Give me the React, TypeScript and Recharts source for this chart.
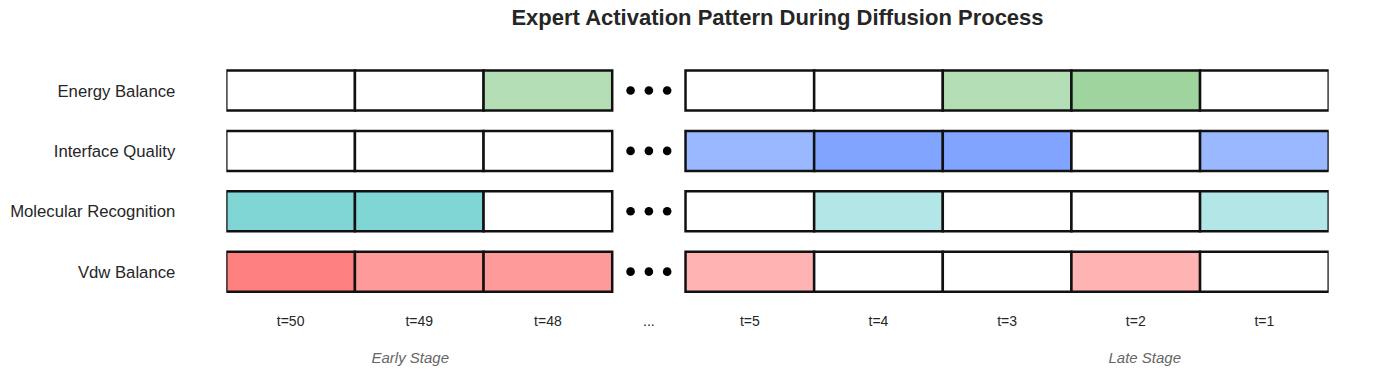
import React from 'react';
import { BarChart, Bar, XAxis, YAxis, Cell } from 'recharts';

const experts = ['Energy Balance', 'Interface Quality', 'Molecular Recognition', 'Vdw Balance'];
const timeLabels = ['t=50', 't=49', 't=48', '...', 't=5', 't=4', 't=3', 't=2', 't=1'];
// width of each slot on the time axis, the 4th slot is the "..." gap
const slotWidths = [1, 1, 1, 0.57, 1, 1, 1, 1, 1];
const gapSlot = 3;

// activation level per time slot (0 = inactive), gap slot is null
const energyBalance = [0, 0, 1, null, 0, 0, 1, 2, 0];
const interfaceQuality = [0, 0, 0, null, 1, 2, 2, 0, 1];
const molecularRecognition = [3, 3, 0, null, 0, 1, 0, 0, 1];
const vdwBalance = [3, 2, 2, null, 1, 0, 0, 1, 0];
const activations = [energyBalance, interfaceQuality, molecularRecognition, vdwBalance];

const energyColors = ['#ffffff', '#b3deb5', '#9fd49e', '#8ccb8b'];
const interfaceColors = ['#ffffff', '#99b8ff', '#80a4ff', '#6690ff'];
const molecularColors = ['#ffffff', '#b3e7e7', '#99dede', '#80d6d4'];
const vdwColors = ['#ffffff', '#ffb3b3', '#ff9a9a', '#ff8080'];
const palettes = [energyColors, interfaceColors, molecularColors, vdwColors];

const stageLabels = ['Early Stage', 'Late Stage'];
const stagePositions = [1.43, 7.14];

const total = slotWidths.reduce((a, b) => a + b, 0);
const slotCenters = slotWidths.map((w, i) => slotWidths.slice(0, i).reduce((a, b) => a + b, 0) + w / 2);

const rows = experts.map((name) => {
	const row: Record<string, any> = { name };
	slotWidths.forEach((w, j) => {
		row[`s${j}`] = w;
	});
	return row;
});

const Dots = (props: any) => {
	const { x, y, width, height } = props;
	const cx = x + width / 2;
	const cy = y + height / 2;
	return (
		<g>
			{[-18.3, 0, 18.3].map((d) => (
				<circle key={d} cx={cx + d} cy={cy} r={4.3} fill='#000' />
			))}
		</g>
	);
};

export default function App() {
	return (
		<div
			style={{
				position: 'absolute',
				left: 0,
				top: 0,
				width: 1384,
				height: 375,
				background: '#ffffff',
				fontFamily: "'Liberation Sans', Arial, sans-serif",
			}}
		>
			<div
				style={{
					position: 'absolute',
					left: 226.3,
					width: 1102.4,
					top: 6.5,
					fontSize: 22,
					lineHeight: '22px',
					fontWeight: 'bold',
					textAlign: 'center',
					color: '#262626',
				}}
			>
				Expert Activation Pattern During Diffusion Process
			</div>
			<BarChart
				width={1384}
				height={375}
				data={rows}
				layout='vertical'
				margin={{ top: 60.5, right: 55.3, left: 50, bottom: 0 }}
			>
				<XAxis
					type='number'
					domain={[0, total]}
					allowDataOverflow
					ticks={slotCenters}
					tickFormatter={(_v, i) => timeLabels[i]}
					axisLine={false}
					tickLine={false}
					tickSize={0}
					tickMargin={14}
					height={40}
					interval={0}
					tick={{ fontSize: 14, fill: '#262626' }}
				/>
				<XAxis
					xAxisId='stage'
					type='number'
					domain={[0, total]}
					allowDataOverflow
					ticks={stagePositions}
					tickFormatter={(_v, i) => stageLabels[i]}
					axisLine={false}
					tickLine={false}
					tickSize={0}
					tickMargin={10}
					height={33}
					interval={0}
					tick={{ fontSize: 15, fill: '#666666', fontStyle: 'italic' }}
				/>
				<YAxis
					type='category'
					dataKey='name'
					axisLine={false}
					tickLine={false}
					tickSize={0}
					tickMargin={51}
					width={176.3}
					tick={{ fontSize: 16.7, fill: '#262626' }}
				/>
				{slotWidths.map((_, j) =>
					j === gapSlot ? (
						<Bar
							key={j}
							dataKey={`s${j}`}
							stackId='t'
							barSize={40}
							fill='none'
							shape={<Dots />}
							isAnimationActive={false}
						/>
					) : (
						<Bar
							key={j}
							dataKey={`s${j}`}
							stackId='t'
							barSize={40}
							stroke='#111111'
							strokeWidth={2.5}
							isAnimationActive={false}
						>
							{rows.map((_r, i) => (
								<Cell key={i} fill={palettes[i][activations[i][j] ?? 0]} />
							))}
						</Bar>
					)
				)}
			</BarChart>
		</div>
	);
}
